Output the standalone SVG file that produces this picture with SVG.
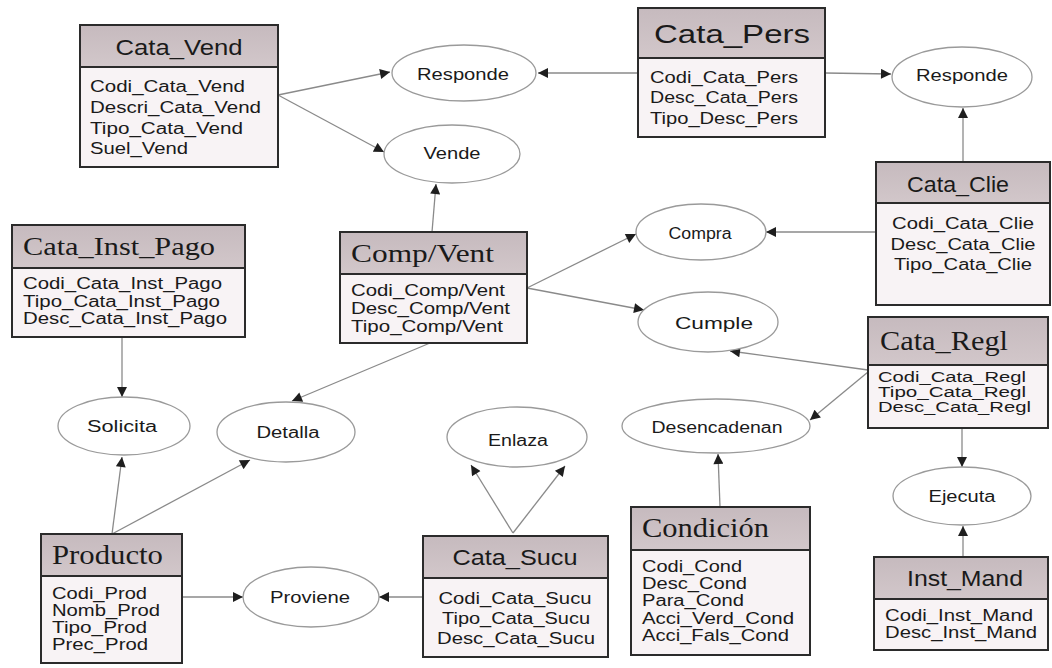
<svg xmlns="http://www.w3.org/2000/svg" width="1052" height="668" viewBox="0 0 1052 668">
  <defs>
    <marker id="arrow" viewBox="0 0 10 10" refX="10" refY="5" markerWidth="12" markerHeight="10" markerUnits="userSpaceOnUse" orient="auto">
      <path d="M0,0 L10,5 L0,10 z" fill="#1e1e1e"/>
    </marker>
    <linearGradient id="hdr" x1="0" y1="0" x2="0" y2="1">
      <stop offset="0" stop-color="#c6babe"/>
      <stop offset="1" stop-color="#d2c7ca"/>
    </linearGradient>
  </defs>
  <style>
    .box { fill: #f8f3f5; stroke: #2b2b2b; stroke-width: 2; }
    .hdr { fill: url(#hdr); stroke: #2b2b2b; stroke-width: 2; }
    .rel { fill: #ffffff; stroke: #9a9a9a; stroke-width: 1.3; }
    .conn { fill: none; stroke: #8a8a8a; stroke-width: 1.3; marker-end: url(#arrow); }
    text { fill: #1a1a1a; dominant-baseline: central; }
    .sans { font-family: "Liberation Sans", Arial, sans-serif; }
    .serif { font-family: "Liberation Serif", "Times New Roman", serif; }
    .attr { font-family: "Liberation Sans", Arial, sans-serif; font-size: 16px; }
    .attr-sm { font-family: "Liberation Sans", Arial, sans-serif; font-size: 14px; }
    .lbl { font-family: "Liberation Sans", Arial, sans-serif; font-size: 16px; text-anchor: middle; }
    .mid { text-anchor: middle; }
  </style>
  <rect width="1052" height="668" fill="#ffffff"/>

  <!-- connectors -->
  <g id="connectors">
    <path class="conn" d="M278,95 L390,72"/>
    <path class="conn" d="M278,95 L384,152"/>
    <path class="conn" d="M638,73 L538,73"/>
    <path class="conn" d="M825,73 L891,74"/>
    <path class="conn" d="M963,162 L963,108"/>
    <path class="conn" d="M432,232 L436,184"/>
    <path class="conn" d="M876,232 L766,232"/>
    <path class="conn" d="M527,288 L636,234"/>
    <path class="conn" d="M527,288 L644,310"/>
    <path class="conn" d="M868,370 L730,351"/>
    <path class="conn" d="M868,372 L810,420"/>
    <path class="conn" d="M962,428 L962,467"/>
    <path class="conn" d="M963,557 L963,526"/>
    <path class="conn" d="M720,507 L718,454"/>
    <path class="conn" d="M430,343 L292,401"/>
    <path class="conn" d="M122,337 L122,397"/>
    <path class="conn" d="M112,534 L122,457"/>
    <path class="conn" d="M112,534 L250,460"/>
    <path class="conn" d="M182,597 L243,597"/>
    <path class="conn" d="M423,597 L379,597"/>
    <path class="conn" d="M513,533 L471,465"/>
    <path class="conn" d="M513,533 L565,466"/>
  </g>

  <!-- relationships -->
  <g id="rel-responde-1"><ellipse class="rel" cx="464" cy="73" rx="72" ry="28"/><text class="lbl" x="463" y="74" textLength="92" lengthAdjust="spacingAndGlyphs">Responde</text></g>
  <g id="rel-vende"><ellipse class="rel" cx="452" cy="154" rx="68" ry="29"/><text class="lbl" x="452" y="153" textLength="57" lengthAdjust="spacingAndGlyphs">Vende</text></g>
  <g id="rel-responde-2"><ellipse class="rel" cx="962" cy="77" rx="70" ry="30"/><text class="lbl" x="962" y="75" textLength="92" lengthAdjust="spacingAndGlyphs">Responde</text></g>
  <g id="rel-compra"><ellipse class="rel" cx="701" cy="232" rx="65" ry="28"/><text class="lbl" x="700" y="233" textLength="63" lengthAdjust="spacingAndGlyphs">Compra</text></g>
  <g id="rel-cumple"><ellipse class="rel" cx="708" cy="322" rx="70" ry="30"/><text class="lbl" x="714" y="323" textLength="78" lengthAdjust="spacingAndGlyphs">Cumple</text></g>
  <g id="rel-desencadenan"><ellipse class="rel" cx="716" cy="426" rx="94" ry="27"/><text class="lbl" x="717" y="427" textLength="131" lengthAdjust="spacingAndGlyphs">Desencadenan</text></g>
  <g id="rel-enlaza"><ellipse class="rel" cx="517" cy="437" rx="70" ry="30"/><text class="lbl" x="518" y="440" textLength="60" lengthAdjust="spacingAndGlyphs">Enlaza</text></g>
  <g id="rel-detalla"><ellipse class="rel" cx="286" cy="432" rx="69" ry="30"/><text class="lbl" x="288" y="432" textLength="63" lengthAdjust="spacingAndGlyphs">Detalla</text></g>
  <g id="rel-solicita"><ellipse class="rel" cx="124" cy="426" rx="66" ry="29"/><text class="lbl" x="122" y="426" textLength="70" lengthAdjust="spacingAndGlyphs">Solicita</text></g>
  <g id="rel-proviene"><ellipse class="rel" cx="311" cy="597" rx="68" ry="30"/><text class="lbl" x="310" y="597" textLength="80" lengthAdjust="spacingAndGlyphs">Proviene</text></g>
  <g id="rel-ejecuta"><ellipse class="rel" cx="962" cy="496" rx="69" ry="29"/><text class="lbl" x="962" y="496" textLength="67" lengthAdjust="spacingAndGlyphs">Ejecuta</text></g>

  <!-- entities -->
  <g id="ent-cata-vend">
    <rect class="box" x="80" y="25" width="198" height="142"/>
    <rect class="hdr" x="80" y="25" width="198" height="42"/>
    <text class="sans mid" x="179" y="47" font-size="22" textLength="127" lengthAdjust="spacingAndGlyphs">Cata_Vend</text>
    <text class="attr" x="90" y="86" textLength="155" lengthAdjust="spacingAndGlyphs">Codi_Cata_Vend</text>
    <text class="attr" x="90" y="107" textLength="171" lengthAdjust="spacingAndGlyphs">Descri_Cata_Vend</text>
    <text class="attr" x="90" y="128" textLength="153" lengthAdjust="spacingAndGlyphs">Tipo_Cata_Vend</text>
    <text class="attr" x="90" y="148" textLength="98" lengthAdjust="spacingAndGlyphs">Suel_Vend</text>
  </g>

  <g id="ent-cata-pers">
    <rect class="box" x="638" y="8" width="187" height="129"/>
    <rect class="hdr" x="638" y="8" width="187" height="50"/>
    <text class="sans" x="654" y="34" font-size="26" textLength="156" lengthAdjust="spacingAndGlyphs">Cata_Pers</text>
    <text class="attr" x="650" y="77" textLength="148" lengthAdjust="spacingAndGlyphs">Codi_Cata_Pers</text>
    <text class="attr" x="650" y="97" textLength="148" lengthAdjust="spacingAndGlyphs">Desc_Cata_Pers</text>
    <text class="attr" x="650" y="118" textLength="148" lengthAdjust="spacingAndGlyphs">Tipo_Desc_Pers</text>
  </g>

  <g id="ent-cata-clie">
    <rect class="box" x="876" y="162" width="174" height="143"/>
    <rect class="hdr" x="876" y="162" width="174" height="41"/>
    <text class="sans mid" x="958" y="184" font-size="22" textLength="102" lengthAdjust="spacingAndGlyphs">Cata_Clie</text>
    <text class="attr mid" x="963" y="223" textLength="142" lengthAdjust="spacingAndGlyphs">Codi_Cata_Clie</text>
    <text class="attr mid" x="963" y="244" textLength="145" lengthAdjust="spacingAndGlyphs">Desc_Cata_Clie</text>
    <text class="attr mid" x="963" y="264" textLength="138" lengthAdjust="spacingAndGlyphs">Tipo_Cata_Clie</text>
  </g>

  <g id="ent-cata-inst-pago">
    <rect class="box" x="12" y="225" width="233" height="112"/>
    <rect class="hdr" x="12" y="225" width="233" height="43"/>
    <text class="serif" x="23" y="246" font-size="26" textLength="192" lengthAdjust="spacingAndGlyphs">Cata_Inst_Pago</text>
    <text class="attr" x="23" y="283" textLength="199" lengthAdjust="spacingAndGlyphs">Codi_Cata_Inst_Pago</text>
    <text class="attr" x="23" y="301" textLength="197" lengthAdjust="spacingAndGlyphs">Tipo_Cata_Inst_Pago</text>
    <text class="attr" x="23" y="318" textLength="204" lengthAdjust="spacingAndGlyphs">Desc_Cata_Inst_Pago</text>
  </g>

  <g id="ent-comp-vent">
    <rect class="box" x="340" y="232" width="187" height="111"/>
    <rect class="hdr" x="340" y="232" width="187" height="42"/>
    <text class="serif" x="351" y="253" font-size="26" textLength="143" lengthAdjust="spacingAndGlyphs">Comp/Vent</text>
    <text class="attr" x="351" y="290" textLength="154" lengthAdjust="spacingAndGlyphs">Codi_Comp/Vent</text>
    <text class="attr" x="351" y="308" textLength="159" lengthAdjust="spacingAndGlyphs">Desc_Comp/Vent</text>
    <text class="attr" x="351" y="326" textLength="152" lengthAdjust="spacingAndGlyphs">Tipo_Comp/Vent</text>
  </g>

  <g id="ent-cata-regl">
    <rect class="box" x="868" y="317" width="180" height="111"/>
    <rect class="hdr" x="868" y="317" width="180" height="48"/>
    <text class="serif" x="880" y="341" font-size="27" textLength="128" lengthAdjust="spacingAndGlyphs">Cata_Regl</text>
    <text class="attr-sm" x="878" y="377" textLength="148" lengthAdjust="spacingAndGlyphs">Codi_Cata_Regl</text>
    <text class="attr-sm" x="878" y="392" textLength="148" lengthAdjust="spacingAndGlyphs">Tipo_Cata_Regl</text>
    <text class="attr-sm" x="878" y="407" textLength="153" lengthAdjust="spacingAndGlyphs">Desc_Cata_Regl</text>
  </g>

  <g id="ent-producto">
    <rect class="box" x="41" y="534" width="141" height="129"/>
    <rect class="hdr" x="41" y="534" width="141" height="42"/>
    <text class="serif" x="52" y="555" font-size="27" textLength="111" lengthAdjust="spacingAndGlyphs">Producto</text>
    <text class="attr" x="52" y="593" textLength="95" lengthAdjust="spacingAndGlyphs">Codi_Prod</text>
    <text class="attr" x="52" y="610" textLength="108" lengthAdjust="spacingAndGlyphs">Nomb_Prod</text>
    <text class="attr" x="52" y="627" textLength="95" lengthAdjust="spacingAndGlyphs">Tipo_Prod</text>
    <text class="attr" x="52" y="644" textLength="96" lengthAdjust="spacingAndGlyphs">Prec_Prod</text>
  </g>

  <g id="ent-cata-sucu">
    <rect class="box" x="423" y="536" width="185" height="121"/>
    <rect class="hdr" x="423" y="536" width="185" height="42"/>
    <text class="sans mid" x="515" y="557" font-size="22" textLength="125" lengthAdjust="spacingAndGlyphs">Cata_Sucu</text>
    <text class="attr mid" x="515" y="598" textLength="153" lengthAdjust="spacingAndGlyphs">Codi_Cata_Sucu</text>
    <text class="attr mid" x="516" y="618" textLength="148" lengthAdjust="spacingAndGlyphs">Tipo_Cata_Sucu</text>
    <text class="attr mid" x="516" y="638" textLength="158" lengthAdjust="spacingAndGlyphs">Desc_Cata_Sucu</text>
  </g>

  <g id="ent-condicion">
    <rect class="box" x="631" y="507" width="179" height="148"/>
    <rect class="hdr" x="631" y="507" width="179" height="43"/>
    <text class="serif" x="642" y="528" font-size="27" textLength="127" lengthAdjust="spacingAndGlyphs">Condición</text>
    <text class="attr" x="642" y="566" textLength="100" lengthAdjust="spacingAndGlyphs">Codi_Cond</text>
    <text class="attr" x="642" y="583" textLength="105" lengthAdjust="spacingAndGlyphs">Desc_Cond</text>
    <text class="attr" x="642" y="600" textLength="102" lengthAdjust="spacingAndGlyphs">Para_Cond</text>
    <text class="attr" x="642" y="618" textLength="152" lengthAdjust="spacingAndGlyphs">Acci_Verd_Cond</text>
    <text class="attr" x="642" y="635" textLength="147" lengthAdjust="spacingAndGlyphs">Acci_Fals_Cond</text>
  </g>

  <g id="ent-inst-mand">
    <rect class="box" x="874" y="557" width="174" height="93"/>
    <rect class="hdr" x="874" y="557" width="174" height="42"/>
    <text class="sans mid" x="965" y="578" font-size="22" textLength="116" lengthAdjust="spacingAndGlyphs">Inst_Mand</text>
    <text class="attr" x="885" y="615" textLength="148" lengthAdjust="spacingAndGlyphs">Codi_Inst_Mand</text>
    <text class="attr" x="885" y="632" textLength="152" lengthAdjust="spacingAndGlyphs">Desc_Inst_Mand</text>
  </g>
</svg>
